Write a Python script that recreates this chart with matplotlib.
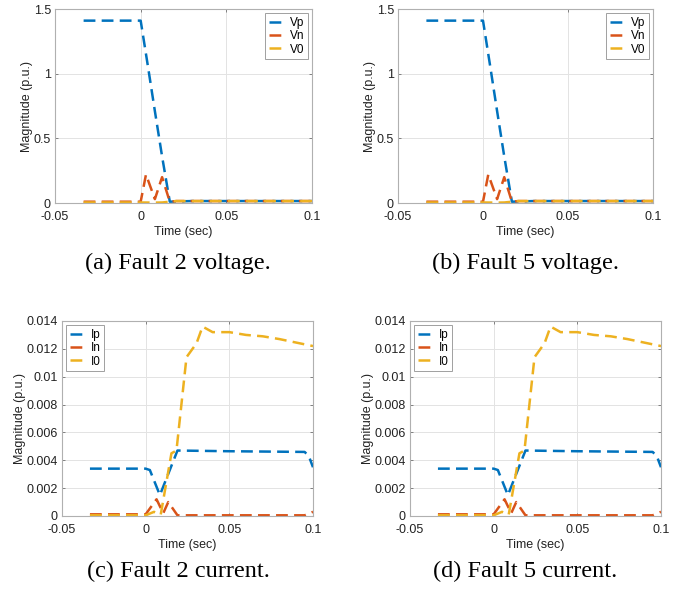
import numpy as np
import matplotlib
matplotlib.use("Agg")
import matplotlib.pyplot as plt

# 数据 (从图中读出, Fault 2 与 Fault 5 曲线相同)
t_vp = [-0.0333, 0.0, 0.0042, 0.0083, 0.0125, 0.0170, 0.0208, 0.03, 0.05, 0.07, 0.1]
vp = [1.41, 1.41, 1.06, 0.71, 0.36, 0.01, 0.012, 0.015, 0.015, 0.015, 0.015]

t_vn = [-0.0333, 0.0, 0.0031, 0.0083, 0.0125, 0.0170, 0.0208, 0.05, 0.1]
vn = [0.01, 0.01, 0.22, 0.03, 0.20, 0.01, 0.015, 0.015, 0.015]

t_v0 = [-0.0333, 0.0, 0.0083, 0.0125, 0.0170, 0.0208, 0.05, 0.1]
v0 = [0.004, 0.004, 0.003, 0.004, 0.010, 0.015, 0.015, 0.015]

t_ip = [-0.0333, 0.0, 0.0025, 0.0085, 0.0190, 0.05, 0.095, 0.0975, 0.1]
ip = [0.0034, 0.0034, 0.0033, 0.0015, 0.0047, 0.00465, 0.0046, 0.0043, 0.0035]

t_in = [-0.0333, 0.0, 0.0065, 0.0105, 0.0135, 0.0190, 0.05, 0.095, 0.1]
i_n = [0.00012, 0.00012, 0.0012, 0.0002, 0.0010, 0.00005, 0.00005, 0.00005, 0.0003]

t_i0 = [-0.0333, 0.0, 0.0050, 0.0090, 0.0154, 0.0184, 0.0244, 0.0304, 0.0340,
        0.0400, 0.0500, 0.0600, 0.0700, 0.0800, 0.0900, 0.1]
i0 = [0.00005, 0.00005, 0.0003, 0.0001, 0.0045, 0.0047, 0.0114, 0.0124, 0.0136,
      0.0132, 0.0132, 0.0130, 0.0129, 0.0127, 0.01245, 0.0122]

colors = ['#0072BD', '#D95319', '#EDB120']

W, H = 683, 592
plt.rcParams['font.family'] = ['Liberation Sans', 'DejaVu Sans']
plt.rcParams['lines.scale_dashes'] = False
fig = plt.figure(figsize=(W / 100, H / 100), dpi=100)


def add_ax(left, right, top, bottom):
    return fig.add_axes([left / W, 1 - bottom / H, (right - left) / W, (bottom - top) / H])


def style(ax, yticks, ylim, yfmt):
    ax.set_xlim(-0.05, 0.1)
    ax.set_ylim(*ylim)
    ax.set_xticks([-0.05, 0, 0.05, 0.1])
    ax.set_xticklabels(['-0.05', '0', '0.05', '0.1'])
    ax.set_yticks(yticks)
    ax.set_yticklabels([yfmt(v) for v in yticks])
    ax.grid(True, color='#e3e3e3', linewidth=0.7)
    ax.set_axisbelow(True)
    for s in ax.spines.values():
        s.set_color('#b0b0b0')
        s.set_linewidth(0.8)
    ax.tick_params(direction='in', length=2.5, width=0.6, color='#707070',
                   labelsize=9, top=True, right=True, labelcolor='#222222')
    ax.tick_params(axis='x', pad=6)
    ax.tick_params(axis='y', pad=3)
    ax.set_xlabel('Time (sec)', fontsize=9, labelpad=2, color='#222222')
    ax.set_ylabel('Magnitude (p.u.)', fontsize=9, labelpad=0.3, color='#222222')


def plot_lines(ax, series, labels, loc):
    for (t, y), lab, c in zip(series, labels, colors):
        ax.plot(t, y, color=c, linewidth=1.8, dashes=(8.5, 4.5), label=lab)
    leg = ax.legend(loc=loc, fontsize=8.5, handlelength=1.1, handletextpad=0.7,
                    borderpad=0.3, labelspacing=0.12, fancybox=False, framealpha=1,
                    borderaxespad=0.35)
    leg.get_frame().set_edgecolor('#a0a0a0')
    leg.get_frame().set_linewidth(0.7)


volt_series = [(t_vp, vp), (t_vn, vn), (t_v0, v0)]
curr_series = [(t_ip, ip), (t_in, i_n), (t_i0, i0)]

vfmt = lambda v: '0' if v == 0 else ('1' if v == 1 else f'{v:g}')
cfmt = lambda v: '0' if v == 0 else f'{v:.3f}'.rstrip('0')

for left, right in [(55, 312), (398, 653)]:
    ax = add_ax(left, right, 9, 203)
    plot_lines(ax, volt_series, ['Vp', 'Vn', 'V0'], 'upper right')
    style(ax, [0, 0.5, 1, 1.5], (0, 1.5), vfmt)

for left, right in [(62, 313), (410, 661)]:
    ax = add_ax(left, right, 321, 516)
    plot_lines(ax, curr_series, ['Ip', 'In', 'I0'], 'upper left')
    style(ax, [0, 0.002, 0.004, 0.006, 0.008, 0.01, 0.012, 0.014], (0, 0.014), cfmt)

caps = [('(a) Fault 2 voltage.', 178, 263), ('(b) Fault 5 voltage.', 525, 263),
        ('(c) Fault 2 current.', 178, 571), ('(d) Fault 5 current.', 525, 571)]
for txt, x, y in caps:
    fig.text(x / W, 1 - y / H, txt, ha='center', va='center', fontsize=17.5,
             family=['Liberation Serif', 'DejaVu Serif'])

fig.savefig('out.png', dpi=100)
